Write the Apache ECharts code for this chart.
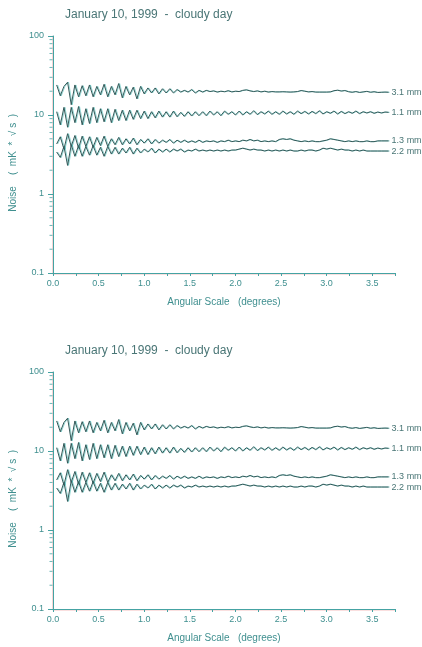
<!DOCTYPE html>
<html>
<head>
<meta charset="utf-8">
<script src="https://cdn.jsdelivr.net/npm/echarts@6/dist/echarts.min.js"></script>
<style>
html,body{margin:0;padding:0;background:#fff;}
#c{width:422px;height:647px;}
</style>
</head>
<body>
<div id="c"></div>
<script>
// Angular scale (degrees)
var angles = [0.04,0.08,0.12,0.16,0.20,0.24,0.28,0.32,0.36,0.40,0.44,0.48,0.52,0.56,0.60,0.64,0.68,0.72,0.76,0.80,
0.84,0.88,0.92,0.96,1.00,1.04,1.08,1.12,1.16,1.20,
1.24,1.28,1.32,1.36,1.40,1.44,1.48,1.52,1.56,1.60,
1.64,1.68,1.72,1.76,1.80,1.84,1.88,1.92,1.96,2.00,
2.04,2.08,2.12,2.16,2.20,2.24,2.28,2.32,2.36,2.40,
2.44,2.48,2.52,2.56,2.60,2.64,2.68,2.72,2.76,2.80,
2.84,2.88,2.92,2.96,3.00,3.04,3.08,3.12,3.16,3.20,
3.24,3.28,3.32,3.36,3.40,3.44,3.48,3.52,3.56,3.60,
3.64,3.68];

// Noise (mK * sqrt(s)) per wavelength
var noise31 = [24,17.5,23,26,13.5,24,17,23.5,17.5,24,17,23,18,24.5,17,23,18,25,16.5,23,
18,22.5,16,23,18.5,22,19,22,18.5,21.5,
19,21.5,19,21,19.5,20.5,19.5,21,19,20.5,
19.5,20.5,19.8,20.2,19.5,20,19.7,20.3,19.6,20,
19.8,20.5,20.8,20.2,19.8,20.2,19.6,20,19.5,19.8,
19.6,19.6,19.7,19.6,19.5,19.6,19.8,20.4,20,19.6,
19.8,19.5,19.5,19.5,19.5,19.6,20.3,20.6,20.1,20.4,
19.7,19.4,19.8,19.3,19.6,19.9,19.4,19.7,19.3,19.4,
19.5,19.4];
var noise11 = [11,7.5,12.5,7,12.5,8,12.8,7.5,12,7.8,12.5,8,12,8.2,12,8,11.8,8.5,11.5,8.5,
11.5,8.8,11.5,9,11.2,9,11,9.2,11.2,9.4,
11,9.4,11.2,9.5,10.8,9.6,11,9.7,11,9.8,
11,9.8,11.2,10,11,9.8,11.2,10.2,11,10,
11.2,10,11,10.2,11.3,10.1,11,10.3,11.2,10.2,
11,10.2,11.2,10.3,11,10.2,11.2,10.4,11.1,10.3,
11.1,10.4,11.3,10.3,11,10.5,11.2,10.3,11.1,10.4,
11,10.5,11.2,10.4,11,10.6,11,10.5,10.9,10.6,
10.9,10.8];
var noise13 = [4.3,5.3,3.7,5.8,4.0,5.5,3.8,5.4,4.0,5.3,3.9,5.2,4.1,5.4,4.0,5.0,4.2,5.2,4.2,5.0,
4.3,5.1,4.2,4.9,4.4,5.0,4.3,4.9,4.4,4.8,
4.5,4.9,4.4,4.8,4.5,4.8,4.5,4.7,4.5,4.8,
4.5,4.7,4.6,4.7,4.5,4.7,4.6,4.8,4.6,4.7,
4.6,4.8,4.7,4.9,4.7,4.8,4.6,4.7,4.6,4.7,
4.6,4.9,5.0,4.9,5.0,4.8,4.7,4.6,4.7,4.6,
4.7,4.6,4.6,4.7,4.8,5.0,4.9,4.8,4.7,4.6,
4.7,4.6,4.7,4.6,4.6,4.7,4.6,4.6,4.7,4.7,
4.7,4.7];
var noise22 = [3.4,2.9,4.0,2.3,4.2,3.0,4.1,3.0,4.0,3.1,4.1,3.1,3.9,3.0,4.0,3.2,3.9,3.2,3.8,3.3,
3.9,3.2,3.8,3.3,3.7,3.4,3.8,3.3,3.7,3.4,
3.7,3.4,3.7,3.5,3.7,3.4,3.6,3.5,3.7,3.5,
3.6,3.5,3.6,3.5,3.6,3.5,3.6,3.5,3.6,3.6,
3.7,3.8,3.7,3.6,3.7,3.6,3.6,3.5,3.6,3.5,
3.6,3.5,3.6,3.5,3.6,3.5,3.5,3.6,3.5,3.6,
3.6,3.5,3.6,3.8,3.7,3.8,3.7,3.6,3.7,3.6,
3.6,3.5,3.6,3.5,3.6,3.5,3.5,3.5,3.5,3.5,
3.5,3.5];

var seriesNames = ['3.1 mm','1.1 mm','1.3 mm','2.2 mm'];
var seriesValues = [noise31, noise11, noise13, noise22];
var minorTickValues = [0.2,0.3,0.4,0.5,0.6,0.7,0.8,0.9,2,3,4,5,6,7,8,9,20,30,40,50,60,70,80,90];
var titleText = 'January 10, 1999  -  cloudy day';

var FONT = '"Liberation Sans", Arial, sans-serif';
var TEXT = '#3f8f8f';
var AXIS = '#45a3a3';
var LINE = '#345858';
var panels = [0, 1];
var offsets = [0, 336];

var option = {
  animation: false,
  backgroundColor: '#fff',
  title: panels.map(function (p) {
    return {
      text: titleText, left: 60, top: 4 + offsets[p],
      textStyle: {fontFamily: FONT, fontSize: 12, fontWeight: 'normal', color: '#4a7676'}
    };
  }),
  grid: panels.map(function (p) {
    return {left: 53, top: 36 + offsets[p], width: 342, height: 237, containLabel: false};
  }),
  xAxis: panels.map(function (p) {
    return {
      gridIndex: p, type: 'value', min: 0, max: 3.75, interval: 0.25,
      name: 'Angular Scale   (degrees)', nameLocation: 'middle', nameGap: 24,
      nameTextStyle: {fontFamily: FONT, fontSize: 10, color: TEXT},
      axisLine: {lineStyle: {color: AXIS, width: 1, shadowColor: 'rgba(240,150,150,0.3)', shadowOffsetY: 1}},
      axisTick: {length: 3, lineStyle: {color: AXIS}},
      axisLabel: {
        fontFamily: FONT, fontSize: 9, color: TEXT, margin: 6,
        formatter: function (v) { return (Math.round(v * 100) % 50 === 0) ? v.toFixed(1) : ''; }
      },
      splitLine: {show: false}
    };
  }),
  yAxis: panels.map(function (p) {
    return {
      gridIndex: p, type: 'log', logBase: 10, min: 0.1, max: 100,
      name: 'Noise    (  mK  *  \u221A s  )      ', nameLocation: 'middle', nameGap: 32, nameRotate: 90,
      nameTextStyle: {fontFamily: FONT, fontSize: 10, color: TEXT},
      axisLine: {show: true, lineStyle: {color: AXIS, width: 1, shadowColor: 'rgba(240,150,150,0.4)', shadowOffsetX: -1}},
      axisTick: {length: 5, lineStyle: {color: AXIS}},
      axisLabel: {fontFamily: FONT, fontSize: 9, color: TEXT, margin: 9,
        formatter: function (v) { return String(v); }},
      splitLine: {show: false}
    };
  }),
  series: []
};

panels.forEach(function (p) {
  seriesNames.forEach(function (name, k) {
    option.series.push({
      type: 'line', name: name, xAxisIndex: p, yAxisIndex: p,
      data: angles.map(function (a, i) { return [a, seriesValues[k][i]]; }),
      showSymbol: false, symbol: 'none', silent: true,
      lineStyle: {color: LINE, width: 1, shadowColor: 'rgba(60,185,180,0.55)', shadowOffsetX: 1, shadowBlur: 0},
      endLabel: {show: true, formatter: name, fontFamily: FONT, fontSize: 9, color: '#4a7676', distance: 3}
    });
  });
  option.series.push({
    type: 'scatter', xAxisIndex: p, yAxisIndex: p, silent: true,
    symbol: 'rect', symbolSize: [3, 1], symbolOffset: [-2, 0],
    itemStyle: {color: AXIS}, clip: false,
    data: minorTickValues.map(function (v) { return [0, v]; })
  });
});

var chart = echarts.init(document.getElementById('c'), null, {renderer: 'canvas'});
chart.setOption(option);
</script>
</body>
</html>
